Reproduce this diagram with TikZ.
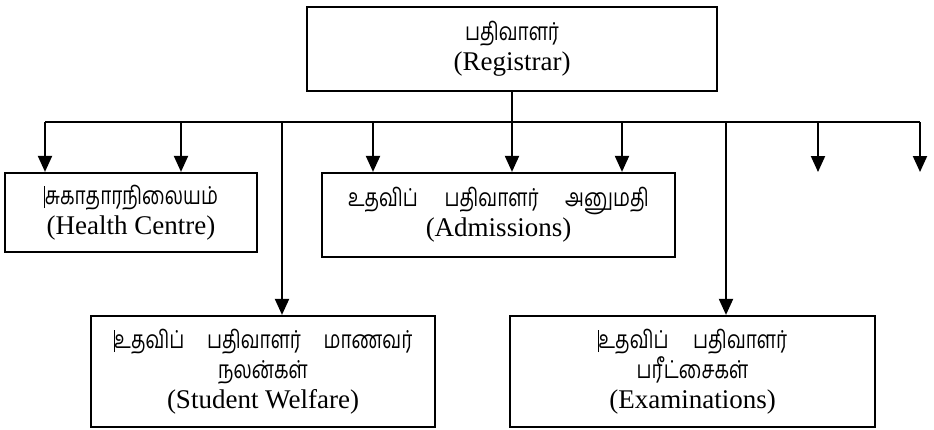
\documentclass[tikz,border=0pt]{standalone}
\usepackage{fontspec}
\setmainfont{Liberation Serif}
\newfontfamily\ta[Script=Tamil]{Hind Madurai}
\usetikzlibrary{arrows.meta}
\newcommand{\cbar}{\rule[-3pt]{0.9pt}{17pt}}
\newcommand{\tm}[1]{\scalebox{1}[1.3]{\fontsize{19}{30}\ta #1}}
\begin{document}
\begin{tikzpicture}[x=1pt,y=-1pt,
  box/.style={draw,line width=2.2pt,inner sep=0pt,align=center,
    font=\fontsize{27}{30}\selectfont},
  conn/.style={line width=2pt},
  arr/.style={conn,-{Triangle[width=14pt,length=16pt]}}]
\useasboundingbox (0,0) rectangle (934,429);
% boxes
\node[box,minimum width=410pt,minimum height=84pt] (reg) at (512,49)
  {\tm{பதிவாளர்}\\(Registrar)};
\node[box,minimum width=252pt,minimum height=79pt] (hc) at (131,212.5)
  {\tm{\cbar சுகாதாரநிலையம்}\\(Health Centre)};
\node[box,minimum width=353pt,minimum height=84pt] (adm) at (498.5,215)
  {\tm{உதவிப்\hspace{22pt} பதிவாளர்\hspace{22pt} அனுமதி}\\(Admissions)};
\node[box,minimum width=344pt,minimum height=111pt] (sw) at (263,371.5)
  {\tm{\cbar உதவிப்\hspace{18pt} பதிவாளர்\hspace{18pt} மாணவர்}\\\tm{நலன்கள்}\\(Student Welfare)};
\node[box,minimum width=365pt,minimum height=111pt] (ex) at (692.5,371.5)
  {\tm{\cbar உதவிப்\hspace{20pt} பதிவாளர்}\\\tm{பரீட்சைகள்}\\(Examinations)};
% bus
\coordinate (b1) at (45,122);
\coordinate (b2) at (181,122);
\coordinate (b3) at (282,122);
\coordinate (b4) at (373,122);
\coordinate (b6) at (622,122);
\coordinate (b7) at (726,122);
\coordinate (b8) at (818,122);
\coordinate (b9) at (920,122);
\coordinate (e8) at (818,172);
\coordinate (e9) at (920,172);
\draw[conn] (b1) -- (b9);
\draw[arr] (reg.south) -- (reg.south |- adm.north);
\draw[arr] (b1) -- (b1 |- hc.north);
\draw[arr] (b2) -- (b2 |- hc.north);
\draw[arr] (b3) -- (b3 |- sw.north);
\draw[arr] (b4) -- (b4 |- adm.north);
\draw[arr] (b6) -- (b6 |- adm.north);
\draw[arr] (b7) -- (b7 |- ex.north);
\draw[arr] (b8) -- (e8);
\draw[arr] (b9) -- (e9);
\end{tikzpicture}
\end{document}
